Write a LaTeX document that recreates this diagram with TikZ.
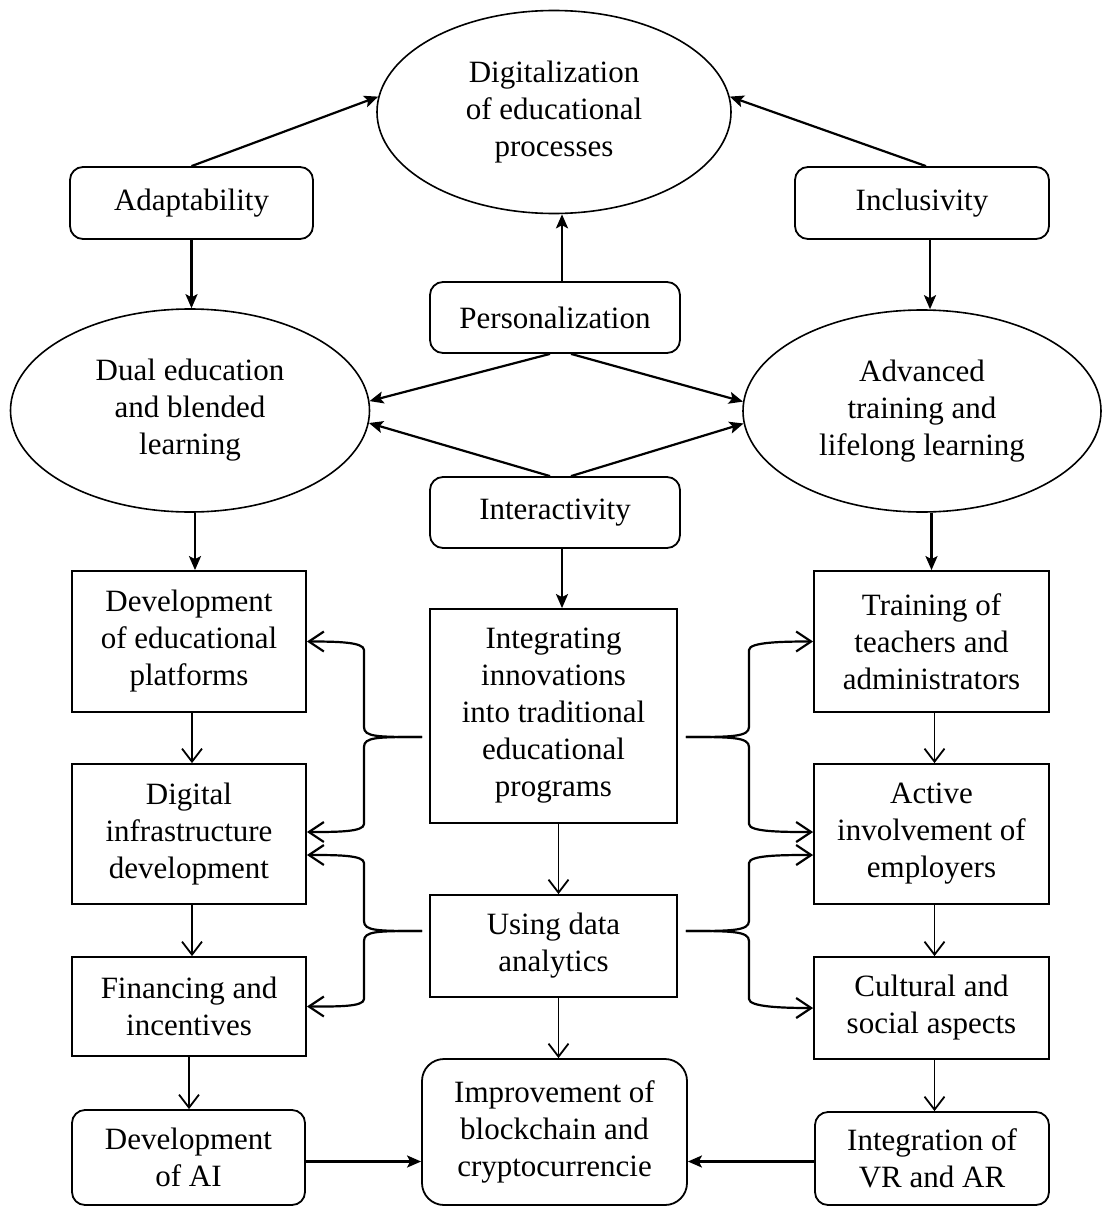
\documentclass[tikz,border=0pt]{standalone}
\usepackage{fontspec}
\setmainfont{Liberation Serif}
\usetikzlibrary{arrows.meta,shapes.geometric}
\begin{document}
\begin{tikzpicture}[x=1pt,y=-1pt,
  font=\fontsize{31}{37}\selectfont,
  box/.style={draw, line width=1.8pt, align=center, inner sep=0pt},
  rbox/.style={box, rounded corners=13pt},
  ell/.style={draw, ellipse, line width=1.6pt, align=center, inner sep=0pt},
  fa/.style={line width=2.2pt, -{Stealth[length=14pt,width=12pt,inset=3pt]}},
  oa/.style={line width=1.8pt, -{Straight Barb[length=13pt,width=20pt]}},
  brc/.style={line width=2.2pt, -{Straight Barb[length=15pt,width=20pt]}}]
\useasboundingbox (0,0) rectangle (1102,1207);

% top
\node[ell, minimum width=354pt, minimum height=203pt] (dig) at (554,112) {Digitalization\\of educational\\processes};
\node[rbox, minimum width=243pt, minimum height=72pt] (adapt) at (191.5,203) {Adaptability};
\node[rbox, minimum width=254pt, minimum height=72pt] (incl) at (922,203) {Inclusivity};
\node[rbox, minimum width=250pt, minimum height=71pt] (pers) at (555,317.5) {Personalization};
\node[rbox, minimum width=250pt, minimum height=71pt] (inter) at (555,512.5) {Interactivity};
\node[ell, minimum width=359pt, minimum height=203pt] (dual) at (190,410.5) {Dual education\\and blended\\learning};
\node[ell, minimum width=358pt, minimum height=202pt] (adv) at (922,411) {Advanced\\training and\\lifelong learning};

% grid
\node[box, minimum width=234pt, minimum height=141pt] (devp) at (189,641.5) {Development\\of educational\\platforms};
\node[box, minimum width=234pt, minimum height=140pt] (digi) at (189,834) {Digital\\infrastructure\\development};
\node[box, minimum width=234pt, minimum height=99pt] (fin) at (189,1006.5) {Financing and\\incentives};
\node[box, minimum width=247pt, minimum height=214pt] (integ) at (553.5,716) {Integrating\\innovations\\into traditional\\educational\\programs};
\node[box, minimum width=247pt, minimum height=102pt] (using) at (553.5,946) {Using data\\analytics};
\node[box, minimum width=235pt, minimum height=141pt] (train) at (931.5,641.5) {Training of\\teachers and\\administrators};
\node[box, minimum width=235pt, minimum height=140pt] (active) at (931.5,834) {Active\\involvement of\\employers};
\node[box, minimum width=235pt, minimum height=102pt] (cult) at (931.5,1008) {Cultural and\\social aspects};

% bottom
\node[rbox, minimum width=233pt, minimum height=95pt] (ai) at (188.5,1157.5) {Development\\of AI};
\node[rbox, rounded corners=22pt, minimum width=265pt, minimum height=146pt] (impr) at (554.5,1132) {Improvement of\\blockchain and\\cryptocurrencie};
\node[rbox, minimum width=234pt, minimum height=93pt] (vr) at (932,1158.5) {Integration of\\VR and AR};

% filled arrows
\draw[fa] (adapt.north) -- (dig.175);
\draw[fa] ([xshift=4pt]incl.north) -- (dig.5);
\draw[fa] ([xshift=7pt]pers.north) -- ([xshift=7pt]pers.north |- dig.south);
\draw[fa] (adapt.south) -- (adapt.south |- dual.north);
\draw[fa] ([xshift=8pt]incl.south) -- ([xshift=8pt]incl.south |- adv.north);
\draw[fa] ([xshift=-5pt]pers.south) -- (dual.3);
\draw[fa] ([xshift=16pt]pers.south) -- (adv.177);
\draw[fa] ([xshift=-5pt]inter.north) -- (dual.356);
\draw[fa] ([xshift=16pt]inter.north) -- (adv.184);
\draw[fa] ([xshift=5pt]dual.south) -- ([xshift=5pt]dual.south |- devp.north);
\draw[fa] (train.north |- adv.south) -- (train.north);
\draw[fa] ([xshift=7pt]inter.south) -- ([xshift=7pt]inter.south |- integ.north);
\draw[fa] ([yshift=-4pt]ai.east) -- ([yshift=-4pt]ai.east -| impr.west);
\draw[fa] ([yshift=-3pt]vr.west) -- ([yshift=-3pt]vr.west -| impr.east);

% open arrows
\draw[oa] ([xshift=5pt]integ.south) -- ([xshift=5pt]integ.south |- using.north);
\draw[oa] ([xshift=5pt]using.south) -- ([xshift=5pt]using.south |- impr.north);
\draw[oa] ([xshift=3pt]devp.south) -- ([xshift=3pt]devp.south |- digi.north);
\draw[oa] ([xshift=3pt]digi.south) -- ([xshift=3pt]digi.south |- fin.north);
\draw[oa] (fin.south) -- (fin.south |- ai.north);
\draw[oa] ([xshift=3pt]train.south) -- ([xshift=3pt]train.south |- active.north);
\draw[oa] ([xshift=3pt]active.south) -- ([xshift=3pt]active.south |- cult.north);
\draw[oa] ([xshift=3pt]cult.south) -- ([xshift=3pt]cult.south |- vr.north);

% braces
\coordinate (bL1) at ([xshift=-7pt,yshift=-21pt]integ.west);
\coordinate (bL2) at ([xshift=-7pt,yshift=15pt]using.west);
\coordinate (bR1) at ([xshift=8pt,yshift=-21pt]integ.east);
\coordinate (bR2) at ([xshift=8pt,yshift=15pt]using.east);

\draw[brc] (bL1) .. controls +(-45,0) and +(0,10) .. (364,727) -- (364,650) .. controls +(0,-8) and +(30,0) .. (devp.east);
\draw[brc] (bL1) .. controls +(-45,0) and +(0,-10) .. (364,747) -- (364,824) .. controls +(0,8) and +(30,0) .. ([yshift=2pt]digi.east);
\draw[brc] (bL2) .. controls +(-45,0) and +(0,10) .. (364,921) -- (364,863) .. controls +(0,-8) and +(30,0) .. ([yshift=-21pt]digi.east);
\draw[brc] (bL2) .. controls +(-45,0) and +(0,-10) .. (364,941) -- (364,999) .. controls +(0,8) and +(30,0) .. (fin.east);

\draw[brc] (bR1) .. controls +(45,0) and +(0,10) .. (749,727) -- (749,650) .. controls +(0,-8) and +(-30,0) .. (train.west);
\draw[brc] (bR1) .. controls +(45,0) and +(0,-10) .. (749,747) -- (749,824) .. controls +(0,8) and +(-30,0) .. ([yshift=2pt]active.west);
\draw[brc] (bR2) .. controls +(45,0) and +(0,10) .. (749,921) -- (749,863) .. controls +(0,-8) and +(-30,0) .. ([yshift=-21pt]active.west);
\draw[brc] (bR2) .. controls +(45,0) and +(0,-10) .. (749,941) -- (749,999) .. controls +(0,8) and +(-30,0) .. (cult.west);
\end{tikzpicture}
\end{document}
